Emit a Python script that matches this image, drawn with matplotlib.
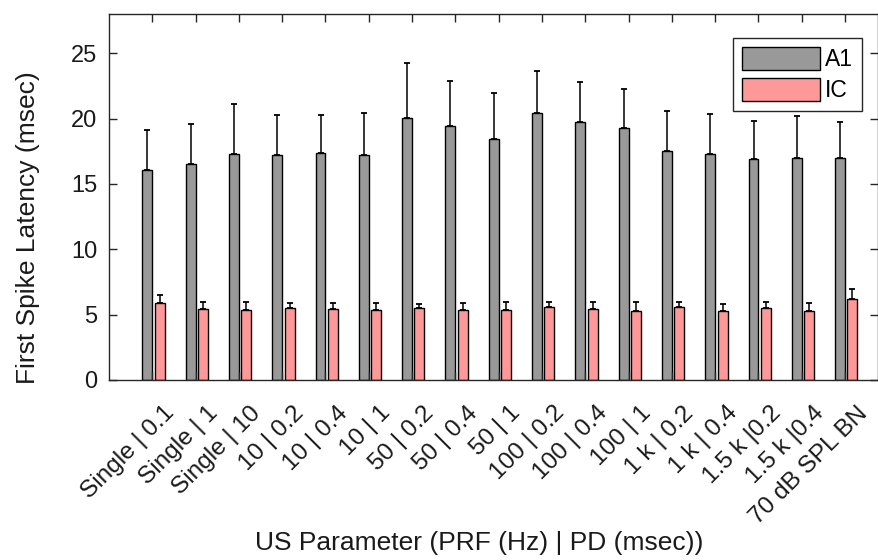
import numpy as np
import matplotlib
matplotlib.use('Agg')
import matplotlib.pyplot as plt
from matplotlib.transforms import ScaledTranslation

plt.rcParams['font.family'] = ['Liberation Sans', 'DejaVu Sans']

## Data
labels = ['Single | 0.1', 'Single | 1', 'Single | 10', '10 | 0.2', '10 | 0.4', '10 | 1',
          '50 | 0.2', '50 | 0.4', '50 | 1', '100 | 0.2', '100 | 0.4', '100 | 1',
          '1 k | 0.2', '1 k | 0.4', '1.5 k |0.2', '1.5 k |0.4', '70 dB SPL BN']
a1_mean = [16.1, 16.5, 17.3, 17.2, 17.4, 17.2, 20.05, 19.4, 18.45, 20.4, 19.7, 19.3,
           17.55, 17.3, 16.9, 16.95, 17.0]
a1_top = [19.15, 19.55, 21.1, 20.3, 20.25, 20.45, 24.25, 22.9, 21.95, 23.65, 22.8, 22.25,
          20.6, 20.35, 19.8, 20.2, 19.7]
ic_mean = [5.9, 5.43, 5.38, 5.53, 5.43, 5.38, 5.48, 5.38, 5.35, 5.58, 5.4, 5.3,
           5.56, 5.25, 5.5, 5.3, 6.22]
ic_top = [6.5, 6.0, 5.98, 5.86, 5.86, 5.9, 5.83, 5.9, 5.96, 5.96, 5.96, 5.94,
          5.96, 5.83, 5.96, 5.86, 6.98]

a1_err = np.array(a1_top) - np.array(a1_mean)
ic_err = np.array(ic_top) - np.array(ic_mean)
x = np.arange(1, len(labels) + 1)
w = 0.23

fig = plt.figure(figsize=(8.79, 5.6), dpi=100)
ax = fig.add_axes([109/879, 1 - 380/560, (878 - 109)/879, (380 - 14)/560])

err_kw = dict(ecolor='black', elinewidth=1.1, capsize=2.5, capthick=1.3)
ax.bar(x - 0.115, a1_mean, w, color='#999999', edgecolor='black', linewidth=1.0,
       yerr=[np.zeros_like(a1_err), a1_err], error_kw=err_kw, label='A1')
ax.bar(x + 0.17, ic_mean, w, color='#ff9999', edgecolor='black', linewidth=1.0,
       yerr=[np.zeros_like(ic_err), ic_err], error_kw=err_kw, label='IC')

ax.set_xlim(0, 17.76)
ax.set_ylim(0, 28)
ax.set_yticks([0, 5, 10, 15, 20, 25])
ax.set_xticks(x)
ax.set_xticklabels(labels, rotation=45, ha='right', va='top', rotation_mode='anchor')
ax.tick_params(direction='in', length=6, width=1, top=True, right=True, labelsize=17,
               colors='#262626', labelcolor='#1a1a1a')
ax.tick_params(axis='x', labelsize=17.6, pad=0)
ax.tick_params(axis='y', pad=8.5)
# MATLAB-like placement of the rotated labels
shift = ScaledTranslation(0.11, -0.22, fig.dpi_scale_trans)
for lab in ax.get_xticklabels():
    lab.set_transform(lab.get_transform() + shift)
for s in ax.spines.values():
    s.set_linewidth(1.0)
    s.set_color('#262626')

ax.set_ylabel('First Spike Latency (msec)', fontsize=19, color='#1a1a1a')
ax.yaxis.set_label_coords(-0.0897, 0.415)
ax.set_xlabel('US Parameter (PRF (Hz) | PD (msec))', fontsize=19, color='#1a1a1a')
ax.xaxis.set_label_coords(0.481, -0.4126)

leg = ax.legend(loc='upper right', bbox_to_anchor=(0.979, 0.934), fontsize=16.5, fancybox=False,
                edgecolor='#262626', framealpha=1, handlelength=3.4, handleheight=1.15,
                borderpad=0.38, labelspacing=0.3, handletextpad=0.22, borderaxespad=0)
leg.get_frame().set_linewidth(1.0)

fig.savefig('out.png', dpi=100)
